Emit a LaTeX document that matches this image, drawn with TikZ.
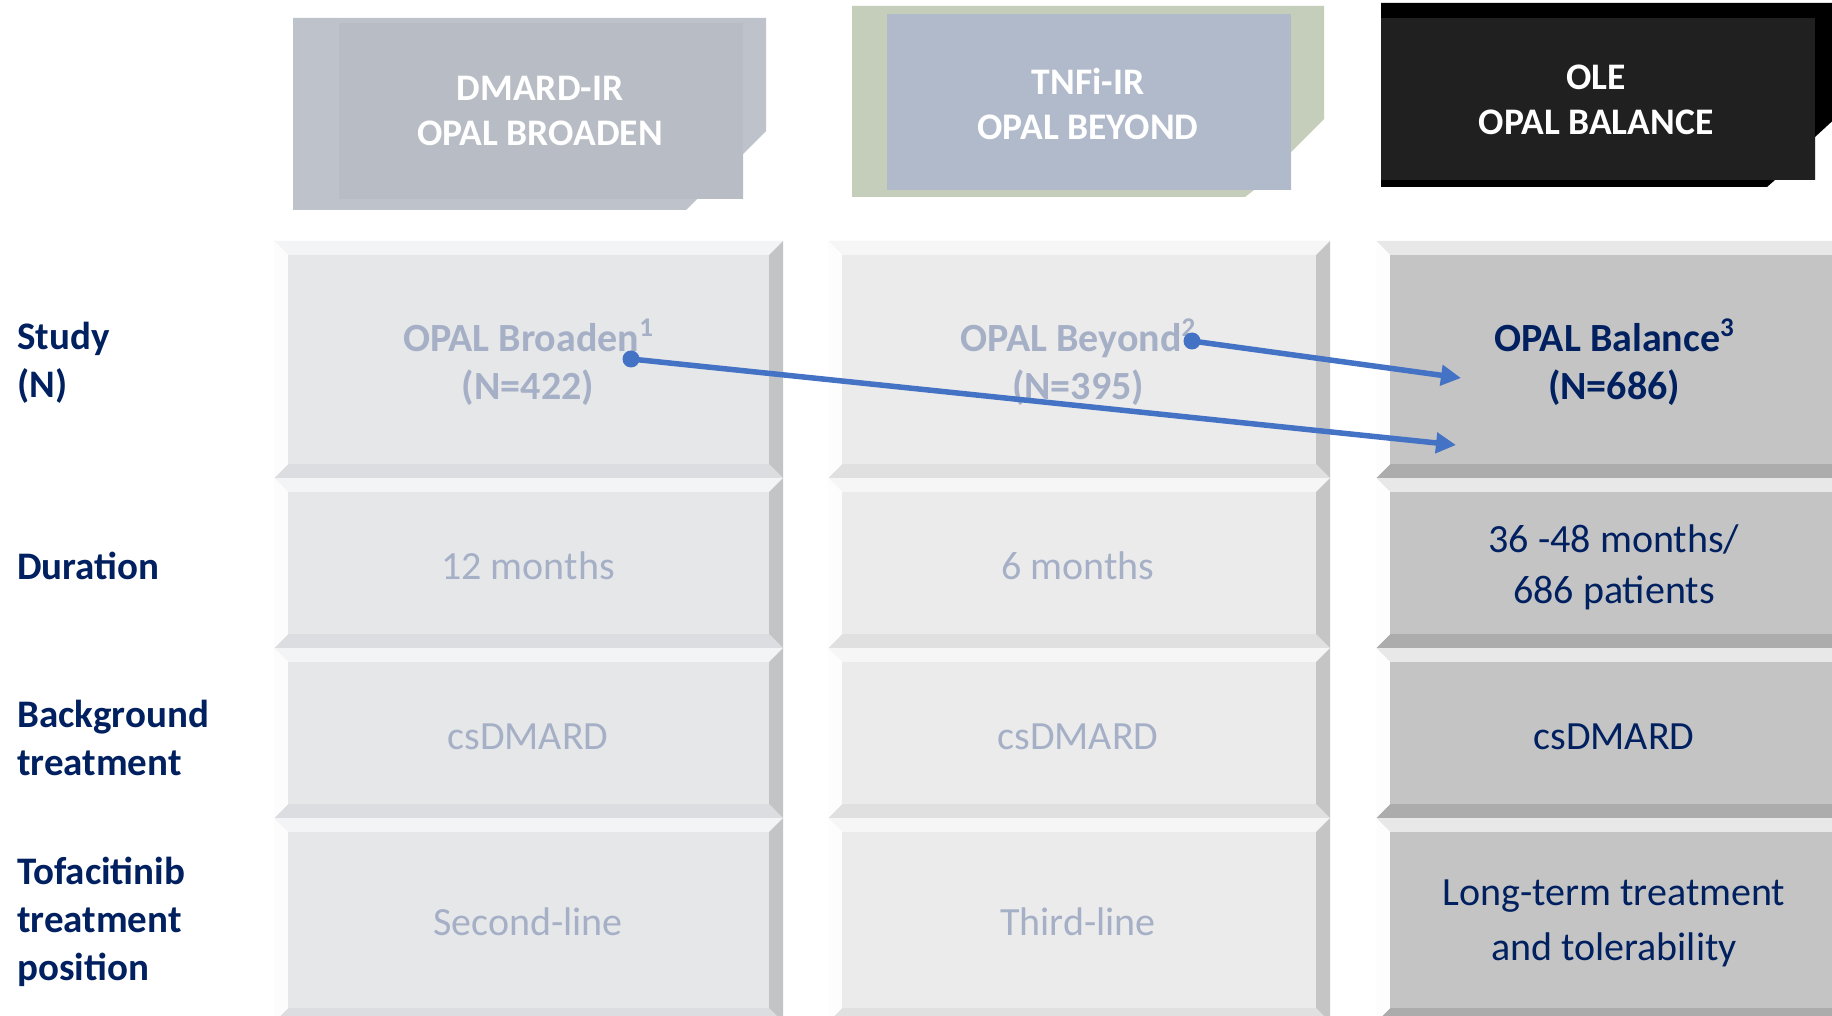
\documentclass[tikz,border=0pt]{standalone}
\usepackage{fontspec}
\setmainfont{Carlito}
\usetikzlibrary{arrows.meta}
\definecolor{navy}{HTML}{002060}
\definecolor{paletxt}{HTML}{A5AFC6}
\definecolor{arrowblue}{HTML}{4472C4}
\definecolor{hAout}{HTML}{BEC2CA}
\definecolor{hAin}{HTML}{B8BCC4}
\definecolor{hBout}{HTML}{C5CEBA}
\definecolor{hBin}{HTML}{B1BACB}
\definecolor{hCout}{HTML}{000000}
\definecolor{hCin}{HTML}{202020}
% column 1 bevel colours
\definecolor{aFace}{HTML}{E6E7E9}
\definecolor{aTop}{HTML}{F3F4F6}
\definecolor{aLeft}{HTML}{FCFCFD}
\definecolor{aRight}{HTML}{C3C4C6}
\definecolor{aBot}{HTML}{DCDDE0}
% column 2
\definecolor{bFace}{HTML}{EBEBEB}
\definecolor{bTop}{HTML}{F6F6F6}
\definecolor{bLeft}{HTML}{FDFDFD}
\definecolor{bRight}{HTML}{C5C5C5}
\definecolor{bBot}{HTML}{E0E0E0}
% column 3
\definecolor{cFace}{HTML}{C4C4C4}
\definecolor{cTop}{HTML}{E8E8E8}
\definecolor{cLeft}{HTML}{FDFDFD}
\definecolor{cRight}{HTML}{A8A8A8}
\definecolor{cBot}{HTML}{ACACAC}

% \bevcell{x0}{y0}{x1}{y1}{face}{top}{left}{right}{bottom}
\newcommand{\bevcell}[9]{%
  \fill[#6] (#1,#2) -- (#3,#2) -- (#3-14,#2+14) -- (#1+14,#2+14) -- cycle;
  \fill[#9] (#1,#4) -- (#3,#4) -- (#3-14,#4-14) -- (#1+14,#4-14) -- cycle;
  \fill[#7] (#1,#2) -- (#1+14,#2+14) -- (#1+14,#4-14) -- (#1,#4) -- cycle;
  \fill[#8] (#3,#2) -- (#3-14,#2+14) -- (#3-14,#4-14) -- (#3,#4) -- cycle;
  \fill[#5] (#1+14,#2+14) rectangle (#3-14,#4-14);
}

\tikzset{
  headtxt/.style={text=white, font=\fontsize{37.5}{45}\selectfont\bfseries, align=center, inner sep=0pt},
  labtxt/.style={text=navy, font=\fontsize{39}{48}\selectfont\bfseries, align=left, anchor=west, inner sep=0pt},
  paletx/.style={text=paletxt, font=\fontsize{40}{48}\selectfont, align=center, inner sep=0pt},
  darktx/.style={text=navy, font=\fontsize{40}{51}\selectfont, align=center, inner sep=0pt},
  link/.style={arrowblue, line width=5.5pt, -{Triangle[length=20pt,width=20pt]}},
  dotmark/.style={fill=arrowblue},
}
\newcommand{\supnum}[1]{\raisebox{15pt}{\fontsize{27}{27}\selectfont #1}}

\begin{document}
\begin{tikzpicture}[x=1pt,y=-1pt]
\useasboundingbox (0,0) rectangle (1832,1016);
\clip (0,0) rectangle (1832,1016);
\fill[white] (0,0) rectangle (1832,1016);

% ---------- headers ----------
\fill[hAout] (293,18) -- (766,18) -- (766,131) -- (743,154) -- (743,199) -- (697,199) -- (686,210) -- (293,210) -- cycle;
\fill[hAin] (339,23) rectangle (743,199);
\fill[hBout] (852,6) -- (1324,6) -- (1324,119) -- (1291,152) -- (1291,190) -- (1254,190) -- (1245,197) -- (852,197) -- cycle;
\fill[hBin] (887,14) rectangle (1291,190);
\fill[hCout] (1381,3) -- (1840,3) -- (1840,114) -- (1815,137) -- (1815,180) -- (1775,180) -- (1767,187) -- (1381,187) -- cycle;
\fill[hCin] (1381,18) rectangle (1815,180);

\node[headtxt] (h1) at (540,111) {DMARD-IR\\OPAL BROADEN};
\node[headtxt] (h2) at (1088,104) {TNFi-IR\\OPAL BEYOND};
\node[headtxt] (h3) at (1596,100) {OLE\\OPAL BALANCE};

% ---------- cells ----------
\foreach \ya/\yb in {241/478, 478/648, 648/818, 818/1022}{
  \bevcell{274}{\ya}{783}{\yb}{aFace}{aTop}{aLeft}{aRight}{aBot}
  \bevcell{828}{\ya}{1330}{\yb}{bFace}{bTop}{bLeft}{bRight}{bBot}
  \bevcell{1376}{\ya}{1850}{\yb}{cFace}{cTop}{cLeft}{cRight}{cBot}
}

% ---------- row labels ----------
\node[labtxt] (lab1) at (17,363) {Study\\(N)};
\node[labtxt] (lab2) at (17,566) {Duration};
\node[labtxt] (lab3) at (17,738) {Background\\treatment};
\node[labtxt] (lab4) at (17,922) {Tofacitinib\\treatment\\position};

% ---------- cell texts ----------
\node[paletx, font=\fontsize{40}{48}\selectfont\bfseries] (c11) at (528,362) {OPAL Broaden\supnum{1}\\(N=422)};
\node[paletx, font=\fontsize{40}{48}\selectfont\bfseries] (c21) at (1078,362) {OPAL Beyond\supnum{2}\\(N=395)};
\node[darktx, font=\fontsize{40}{48}\selectfont\bfseries] (c31) at (1614,362) {OPAL Balance\supnum{3}\\(N=686)};

\node[paletx] (c12) at (528,566) {12 months};
\node[paletx] (c22) at (1078,566) {6 months};
\node[darktx] (c32) at (1614,567) {36 -48 months/\\686 patients};

\node[paletx] (c13) at (528,737) {csDMARD};
\node[paletx] (c23) at (1078,737) {csDMARD};
\node[darktx] (c33) at (1614,737) {csDMARD};

\node[paletx] (c14) at (528,922) {Second-line};
\node[paletx] (c24) at (1078,922) {Third-line};
\node[darktx, font=\fontsize{40}{55}\selectfont] (c34) at (1614,923) {Long-term treatment\\and tolerability};

% ---------- arrows ----------
\coordinate (dA) at (631,359);
\coordinate (tA) at (1456,445);
\coordinate (dB) at (1192,341);
\coordinate (tB) at (1461,378);
\draw[link] (dA) -- (tA);
\draw[link] (dB) -- (tB);
\fill[dotmark] (dA) circle (8.5pt);
\fill[dotmark] (dB) circle (8.5pt);
\end{tikzpicture}
\end{document}
